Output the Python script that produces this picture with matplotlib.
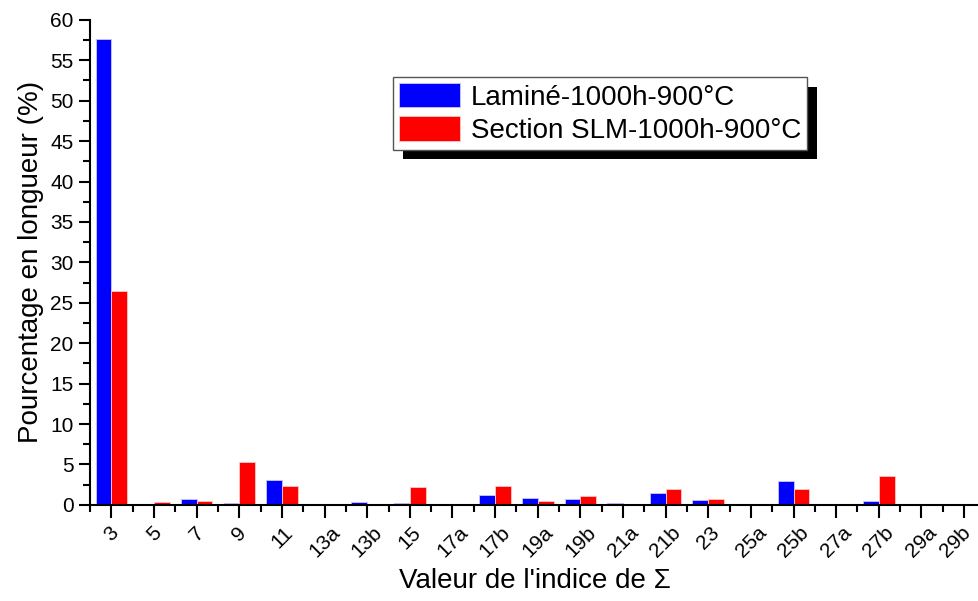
import numpy as np
import matplotlib
matplotlib.use('Agg')
import matplotlib.pyplot as plt
import matplotlib.patheffects as pe
import matplotlib.transforms as mtransforms
from matplotlib.ticker import MultipleLocator

categories = ['3', '5', '7', '9', '11', '13a', '13b', '15', '17a', '17b', '19a',
              '19b', '21a', '21b', '23', '25a', '25b', '27a', '27b', '29a', '29b']
lamine = [57.6, 0, 0.74, 0.25, 3.1, 0, 0.33, 0.25, 0, 1.2, 0.82,
          0.7, 0.17, 1.45, 0.62, 0, 3.0, 0, 0.45, 0, 0]
slm = [26.4, 0.37, 0.45, 5.3, 2.35, 0, 0, 2.15, 0, 2.27, 0.5,
       1.1, 0, 2.0, 0.74, 0, 1.94, 0, 3.6, 0, 0]

plt.rcParams['font.family'] = 'Liberation Sans'

fig = plt.figure(figsize=(9.79, 6.01), dpi=100)
ax = fig.add_axes([0.092, 0.16, 0.908, 0.807])

x = np.arange(len(categories))
w = 0.37
ax.bar(x - w / 2, lamine, w, color='#0000ff', edgecolor='#c8c8ff', linewidth=0.6,
       label='Laminé-1000h-900°C')
ax.bar(x + w / 2, slm, w, color='#ff0000', edgecolor='#ffc8c8', linewidth=0.6,
       label='Section SLM-1000h-900°C')

ax.set_xlim(-0.5, 20.35)
ax.set_ylim(0, 60)
ax.set_xticks(x)
ax.set_xticklabels(categories, rotation=45, ha='center', fontsize=15)
ax.xaxis.set_minor_locator(MultipleLocator(1, offset=0.5))
ax.yaxis.set_major_locator(MultipleLocator(5))
ax.yaxis.set_minor_locator(MultipleLocator(2.5))
ax.tick_params(axis='y', labelsize=15, width=1.5, length=8, pad=4)
ax.tick_params(axis='x', width=1.5, length=9, pad=4)
ax.tick_params(which='minor', width=1.5, length=5)
for s in ['top', 'right']:
    ax.spines[s].set_visible(False)
for s in ['left', 'bottom']:
    ax.spines[s].set_linewidth(1.5)

# nudge the last label left so it stays inside the figure
last = ax.get_xticklabels()[-1]
last.set_transform(last.get_transform() +
                   mtransforms.ScaledTranslation(-0.09, 0, fig.dpi_scale_trans))

ax.set_xlabel('Valeur de l\'indice de Σ', fontsize=20, labelpad=5)
ax.set_ylabel('Pourcentage en longueur (%)', fontsize=20, labelpad=4)

leg = ax.legend(loc='upper left', bbox_to_anchor=(0.341, 0.882), borderaxespad=0,
                fontsize=20, fancybox=False, framealpha=1, edgecolor='#555555',
                handlelength=2.2, handleheight=1.0, handletextpad=0.4,
                labelspacing=0.2, borderpad=0.2)
leg.get_frame().set_linewidth(1)
leg.get_frame().set_path_effects([
    pe.SimplePatchShadow(offset=(7, -7), shadow_rgbFace='black', alpha=1),
    pe.Normal()])

fig.savefig('out.png', dpi=100)
